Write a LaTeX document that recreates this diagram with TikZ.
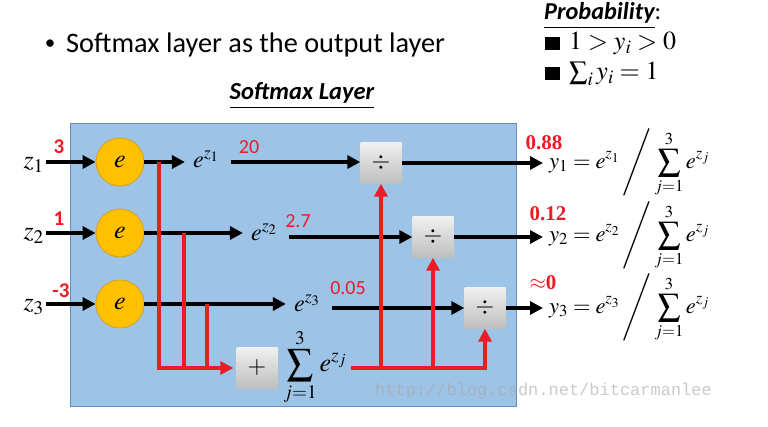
\documentclass[tikz,border=0pt]{standalone}
\usepackage{mathptmx}
\usepackage[no-math]{fontspec}
\setmainfont{Carlito}
\newfontfamily\tnr{Liberation Serif}
\newfontfamily\mono{Liberation Mono}
\usetikzlibrary{arrows.meta}
\definecolor{bgblue}{RGB}{157,195,230}
\definecolor{bgborder}{RGB}{100,140,190}
\definecolor{circfill}{RGB}{255,192,0}
\definecolor{circborder}{RGB}{214,160,20}
\definecolor{redc}{RGB}{236,28,36}
\definecolor{boxtop}{RGB}{240,240,240}
\definecolor{boxbot}{RGB}{190,190,190}
\definecolor{wmark}{RGB}{168,168,168}
\tikzset{
  expnode/.style={circle, fill=circfill, draw=circborder, line width=0.8, minimum size=48, inner sep=0, font=\fontsize{26}{28}\selectfont},
  opbox/.style={rectangle, top color=boxtop, bottom color=boxbot, draw=none, minimum size=41, inner sep=0, font=\fontsize{24}{26}\selectfont},
  mathlab/.style={inner sep=0, font=\fontsize{24}{26}\selectfont},
  eqlab/.style={inner sep=0, anchor=west, font=\fontsize{22.5}{24}\selectfont},
  blk/.style={line width=3.8, -{Triangle[length=13,width=13]}},
  redarr/.style={draw=redc, line width=3.8, -{Triangle[length=13,width=13]}},
  redln/.style={draw=redc, line width=3.8},
  rednum/.style={inner sep=0, text=redc, font=\fontsize{20}{22}\selectfont},
  redinnum/.style={inner sep=0, text=redc, font=\fontsize{21}{22}\selectfont\bfseries},
  redbnum/.style={inner sep=0, text=redc, font=\fontsize{21}{23}\selectfont\tnr\bfseries},
}
\begin{document}
\begin{tikzpicture}[x=1pt,y=-1pt]
\useasboundingbox (0,0) rectangle (768,427);
\fill[white] (0,0) rectangle (768,427);

% headings
\node[inner sep=0, anchor=base, font=\fontsize{21}{24}\selectfont] (bul) at (50,50) {•};
\node[inner sep=0, anchor=base west, font=\fontsize{28.3}{30}\selectfont] (title) at (66,53) {Softmax layer as the output layer};
\node[inner sep=0, anchor=base west, font=\fontsize{24.3}{26}\selectfont] (prob) at (544,20) {\textbf{\textit{\underline{Probability}}}:};
\node[inner sep=0, anchor=base west, font=\fontsize{26}{28}\selectfont] (b1) at (545,50) {\rule{15pt}{13pt}\hspace{9pt}$1>y_i>0$};
\node[inner sep=0, anchor=base west, font=\fontsize{26}{28}\selectfont] (b2) at (545,80) {\rule{15pt}{13pt}\hspace{9pt}$\sum_i y_i=1$};
\node[inner sep=0, anchor=base, font=\fontsize{24.5}{26}\selectfont] (sl) at (302,100) {\textbf{\textit{\underline{Softmax Layer}}}};

% background panel
\draw[draw=bgborder, fill=bgblue, line width=0.6] (70,123) rectangle (516,406);

% watermark
\node[inner sep=0, anchor=base west, text=wmark, text opacity=0.6, font=\fontsize{17}{20}\selectfont\mono] (wm) at (375,395) {http://blog.csdn.net/bitcarmanlee};

% exp circles
\node[expnode] (c1) at (120,162) {$e$};
\node[expnode] (c2) at (120,233) {$e$};
\node[expnode] (c3) at (120,304) {$e$};

% inputs
\node[mathlab, font=\fontsize{26}{28}\selectfont, anchor=east] (z1) at (44,165) {$z_1$};
\node[mathlab, font=\fontsize{26}{28}\selectfont, anchor=east] (z2) at (44,236) {$z_2$};
\node[mathlab, font=\fontsize{26}{28}\selectfont, anchor=east] (z3) at (44,307) {$z_3$};
\draw[blk] ([xshift=2]z1.east |- c1) -- (c1.west);
\draw[blk] ([xshift=2]z2.east |- c2) -- (c2.west);
\draw[blk] ([xshift=2]z3.east |- c3) -- (c3.west);
\node[redinnum] (n1) at (59,147) {3};
\node[redinnum] (n2) at (59,219) {1};
\node[redinnum] (n3) at (61,291) {-3};

% exponentials
\node[mathlab] (e1) at (206,159) {$e^{z_1}$};
\node[mathlab] (e2) at (264,232) {$e^{z_2}$};
\node[mathlab] (e3) at (307,303) {$e^{z_3}$};
\draw[blk] (c1.east) -- ([xshift=-8]e1.west |- c1);
\draw[blk] (c2.east) -- ([xshift=-8]e2.west |- c2);
\draw[blk] (c3.east) -- ([xshift=-8]e3.west |- c3);
\node[rednum] (v1) at (249,147) {20};
\node[rednum] (v2) at (298,221) {2.7};
\node[rednum] (v3) at (348,288) {0.05};

% divide boxes
\node[opbox] (d1) at (381,163) {$\div$};
\node[opbox] (d2) at (433,237) {$\div$};
\node[opbox] (d3) at (485,308) {$\div$};
\draw[blk] ([xshift=12]e1.east |- c1) -- (d1.west |- c1);
\draw[blk] ([xshift=12]e2.east |- d2) -- (d2.west);
\draw[blk] ([xshift=12]e3.east |- d3) -- (d3.west);

% sum node
\node[opbox] (p) at (257,368) {$+$};
\node[inner sep=0, font=\fontsize{26}{28}\selectfont] (s) at (315,367) {$\displaystyle\sum_{j=1}^{3}e^{z_j}$};

% taps
\coordinate (t1) at (159,162);
\coordinate (t2) at (184,233);
\coordinate (t3) at (207,304);
\coordinate (r1) at (d1 |- p);
\coordinate (r3) at (d3 |- p);
\draw[redarr, shorten >=3] (t1) -- (t1 |- p) -- (p.west);
\draw[redln] (t2) -- (t2 |- p);
\draw[redln] (t3) -- (t3 |- p);
\draw[redln] ([xshift=4]s.east |- p) -- (r3);
\draw[redarr] (r1) -- (d1.south);
\draw[redarr] (d2 |- p) -- (d2.south);
\draw[redarr] ([yshift=-1.9]r3) -- (d3.south);

% outputs
\node[eqlab] (y1) at (549,163) {$\displaystyle y_1=e^{z_1}\left/\vphantom{\sum_{j=1}^{3}}\right.\sum_{j=1}^{3}e^{z_j}$};
\node[eqlab] (y2) at (549,236) {$\displaystyle y_2=e^{z_2}\left/\vphantom{\sum_{j=1}^{3}}\right.\sum_{j=1}^{3}e^{z_j}$};
\node[eqlab] (y3) at (549,308) {$\displaystyle y_3=e^{z_3}\left/\vphantom{\sum_{j=1}^{3}}\right.\sum_{j=1}^{3}e^{z_j}$};
\draw[blk] (d1.east) -- ([xshift=-6]y1.west |- d1);
\draw[blk] (d2.east) -- ([xshift=-6]y2.west |- d2);
\draw[blk] (d3.east) -- ([xshift=-6]y3.west |- d3);
\node[redbnum] (o1) at (544,143) {0.88};
\node[redbnum] (o2) at (548,214) {0.12};
\node[redbnum] (o3) at (543,283) {$\approx$0};
\end{tikzpicture}
\end{document}
